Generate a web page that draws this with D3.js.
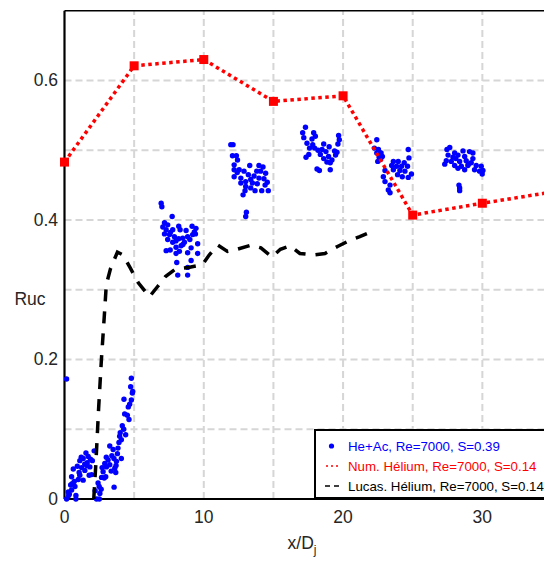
<!DOCTYPE html>
<html><head><meta charset="utf-8">
<script src="https://cdn.jsdelivr.net/npm/d3@7"></script>
<style>body{margin:0;background:#fff;font-family:"Liberation Sans",Arial,sans-serif;}</style>
</head><body><svg id="c" width="544" height="561"></svg>
<script>
// Num. Hélium series
const numX = [0, 5, 10, 15, 20, 25, 30, 35];
const numY = [0.483, 0.621, 0.630, 0.570, 0.578, 0.407, 0.424, 0.440];
// Lucas. Hélium series
const lucasX = [2.1, 2.25, 2.45, 2.65, 2.85, 3.0, 3.3, 3.8, 4.2, 4.7, 5.3, 6.1, 6.7, 7.25, 8.0, 8.9, 9.9, 10.4, 11.0, 11.7, 12.4, 13.4, 14.1, 14.9, 15.5, 16.2, 16.9, 17.9, 18.7, 19.6, 20.4, 21.2, 22.0];
const lucasY = [0.0, 0.05, 0.13, 0.20, 0.26, 0.307, 0.33, 0.354, 0.35, 0.332, 0.31, 0.290, 0.305, 0.319, 0.330, 0.332, 0.336, 0.350, 0.364, 0.355, 0.358, 0.364, 0.360, 0.347, 0.358, 0.363, 0.352, 0.350, 0.352, 0.362, 0.370, 0.376, 0.383];
// He+Ac measured points
const heX = [0.15,4.8,4.75,4.9,4.87,4.27,4.8,4.68,4.58,4.32,4.51,4.63,4.25,4.39,3.96,4.08,3.91,3.84,3.49,3.25,4.08,3.73,3.61,3.68,3.56,3.13,2.89,3.25,3.01,2.77,2.66,2.96,2.41,2.54,2.3,2.5,2.13,1.54,1.7,1.34,1.87,1.1,1.63,0.92,1.23,1.82,0.63,1.46,1.1,1.77,0.51,0.99,1.34,0.44,0.75,0.27,0.51,0.82,0.15,0.82,0.35,2.49,2.63,
  3.4,3.0,2.7,3.8,4.0,3.35,2.85,1.95,1.45,1.05,0.7,0.3,0.55,1.2,1.6,2.0,3.55,4.15,3.7,2.2,
  6.94,6.99,7.73,7.18,7.41,7.06,7.3,7.77,8.2,8.3,9.16,9.44,9.32,7.18,7.54,7.89,8.49,8.84,9.2,7.41,8.2,7.77,8.61,9.56,8.37,8.01,9.09,7.3,7.59,8.25,8.01,8.84,9.56,8.06,9.09,8.84,8.13,8.84,8.73,7.6,8.0,8.5,9.0,9.4,
  11.94,12.1,12.06,12.34,12.42,12.18,13.3,13.96,14.25,12.18,12.54,12.89,14.08,14.44,13.2,13.61,12.18,12.66,13.96,14.32,13.37,13.01,12.66,13.49,14.56,13.84,13.01,13.37,13.68,14.16,14.63,12.96,12.82,13.06,13.01,12.4,13.8,14.4,
  17.3,17.1,17.18,17.89,18.01,17.77,19.68,19.73,17.41,17.82,18.61,19.63,17.59,17.96,18.49,18.77,19.39,19.56,17.54,18.37,18.96,19.46,17.34,18.61,19.2,18.84,19.08,18.13,18.3,19.08,18.2,19.0,
  22.42,24.68,22.25,22.54,22.42,22.73,22.59,22.82,22.49,24.73,23.61,23.96,24.39,23.49,23.84,24.2,24.63,23.61,24.08,24.44,23.01,23.91,24.25,24.68,24.91,22.89,23.01,23.37,23.25,23.37,22.6,22.7,
  27.66,27.46,28.01,28.61,29.08,29.32,27.54,27.89,28.25,28.73,29.32,27.41,27.77,28.37,28.84,29.2,27.3,28.01,28.49,28.96,29.56,29.92,28.25,28.73,29.44,29.8,30.04,29.99,28.32,28.37,28.37,28.1,29.0];
const heY = [0.172,0.173,0.161,0.154,0.152,0.143,0.142,0.136,0.132,0.122,0.120,0.114,0.100,0.092,0.090,0.085,0.081,0.073,0.071,0.076,0.058,0.054,0.044,0.038,0.017,0.056,0.051,0.049,0.046,0.039,0.031,0.032,0.023,0.008,0.0,0.0,0.069,0.066,0.061,0.058,0.057,0.055,0.052,0.047,0.045,0.046,0.043,0.041,0.034,0.034,0.032,0.028,0.027,0.020,0.018,0.010,0.013,0.005,0.0,0.0,0.007,0.018,0.014,
  0.062,0.060,0.045,0.065,0.095,0.040,0.030,0.035,0.050,0.038,0.025,0.005,0.022,0.060,0.048,0.055,0.058,0.105,0.048,0.012,
  0.424,0.419,0.405,0.396,0.393,0.390,0.386,0.386,0.391,0.386,0.391,0.388,0.383,0.380,0.379,0.376,0.374,0.376,0.379,0.372,0.373,0.368,0.368,0.366,0.363,0.361,0.360,0.356,0.357,0.355,0.352,0.353,0.352,0.339,0.342,0.332,0.321,0.321,0.385,0.382,0.370,0.365,0.372,0.380,
  0.508,0.508,0.492,0.492,0.486,0.479,0.478,0.478,0.476,0.472,0.472,0.470,0.470,0.467,0.465,0.463,0.462,0.460,0.460,0.459,0.458,0.455,0.453,0.453,0.454,0.452,0.448,0.446,0.442,0.442,0.442,0.442,0.436,0.411,0.405,0.468,0.470,0.450,
  0.533,0.525,0.518,0.525,0.520,0.516,0.521,0.515,0.510,0.508,0.509,0.509,0.503,0.503,0.501,0.498,0.499,0.497,0.494,0.494,0.491,0.493,0.490,0.488,0.486,0.483,0.482,0.473,0.471,0.472,0.500,0.505,
  0.515,0.501,0.503,0.501,0.496,0.496,0.490,0.491,0.484,0.489,0.484,0.484,0.482,0.478,0.477,0.477,0.477,0.472,0.471,0.470,0.471,0.465,0.462,0.461,0.466,0.462,0.455,0.450,0.443,0.439,0.497,0.487,
  0.504,0.501,0.496,0.499,0.498,0.496,0.493,0.490,0.493,0.491,0.488,0.485,0.484,0.484,0.485,0.482,0.480,0.478,0.477,0.478,0.478,0.477,0.474,0.472,0.472,0.470,0.471,0.466,0.450,0.446,0.442,0.488,0.480];
const xTicks = [0, 10, 20, 30];
const yTicks = [0, 0.2, 0.4, 0.6];
const xGrid = [5, 10, 15, 20, 25, 30, 35];
const yGrid = [0.1, 0.2, 0.3, 0.4, 0.5, 0.6];
const legendLabels = ["He+Ac, Re=7000, S=0.39", "Num. Hélium, Re=7000, S=0.14", "Lucas. Hélium, Re=7000, S=0.14"];

const svg = d3.select("#c");
const x = d3.scaleLinear().domain([0, 35]).range([64.5, 552]);
const y = d3.scaleLinear().domain([0, 0.7]).range([499, 10.7]);

const gridCol = "#d6d6d6";
svg.append("g").selectAll("line").data(xGrid).join("line")
  .attr("x1", d => x(d)).attr("x2", d => x(d)).attr("y1", y(0)).attr("y2", y(0.7))
  .attr("stroke", gridCol).attr("stroke-width", 2).attr("stroke-dasharray", "7,4");
svg.append("g").selectAll("line").data(yGrid).join("line")
  .attr("y1", d => y(d)).attr("y2", d => y(d)).attr("x1", x(0)).attr("x2", x(35))
  .attr("stroke", gridCol).attr("stroke-width", 2).attr("stroke-dasharray", "7,4");

// frame
svg.append("line").attr("x1", x(0)).attr("x2", x(35)).attr("y1", y(0.7)).attr("y2", y(0.7)).attr("stroke", "#000").attr("stroke-width", 1.5);
svg.append("line").attr("x1", x(0)).attr("x2", x(0)).attr("y1", y(0)).attr("y2", y(0.7)).attr("stroke", "#000").attr("stroke-width", 2.2);
svg.append("line").attr("x1", x(0)).attr("x2", x(35)).attr("y1", y(0)).attr("y2", y(0)).attr("stroke", "#000").attr("stroke-width", 2.2);

// tick labels
svg.append("g").selectAll("text").data(yTicks).join("text")
  .attr("x", 58).attr("y", d => y(d) + 6).attr("text-anchor", "end")
  .attr("font-size", 17.5).attr("fill", "#262626").text(d => d === 0 ? "0" : d3.format(".1f")(d));
svg.append("g").selectAll("text").data(xTicks).join("text")
  .attr("x", d => x(d)).attr("y", 523).attr("text-anchor", "middle")
  .attr("font-size", 17.5).attr("fill", "#262626").text(d => d);

svg.append("text").attr("x", 30).attr("y", 305).attr("text-anchor", "middle").attr("font-size", 17.5).attr("fill", "#262626").text("Ruc");
const xl = svg.append("text").attr("x", 302).attr("y", 549).attr("text-anchor", "middle").attr("font-size", 17.5).attr("fill", "#262626");
xl.append("tspan").text("x/D");
xl.append("tspan").attr("font-size", 12).attr("dy", 5).text("j");

// blue scatter
svg.append("g").selectAll("circle").data(d3.range(heX.length)).join("circle")
  .attr("cx", i => x(heX[i])).attr("cy", i => y(heY[i])).attr("r", 2.7).attr("fill", "#0000ff");

// Lucas dashed line
const lucas = d3.range(lucasX.length).map(i => [lucasX[i], lucasY[i]]);
svg.append("path").datum(lucas).attr("d", d3.line().x(d => x(d[0])).y(d => y(d[1])))
  .attr("fill", "none").attr("stroke", "#000").attr("stroke-width", 3.5).attr("stroke-dasharray", "12,10");

// Num dotted line
const num = d3.range(numX.length).map(i => [numX[i], numY[i]]);
svg.append("path").datum(num).attr("d", d3.line().x(d => x(d[0])).y(d => y(d[1])))
  .attr("fill", "none").attr("stroke", "#ff0000").attr("stroke-width", 3.5).attr("stroke-dasharray", "3.5,3.5");
svg.append("g").selectAll("rect").data(num).join("rect")
  .attr("x", d => x(d[0]) - 4.5).attr("y", d => y(d[1]) - 4.5).attr("width", 9).attr("height", 9).attr("fill", "#ff0000");

// legend
const lg = svg.append("g");
lg.append("rect").attr("x", 315).attr("y", 430).attr("width", 260).attr("height", 68).attr("fill", "#fff").attr("stroke", "#000").attr("stroke-width", 2);
const lgCol = ["#0000ff", "#ff0000", "#000"];
const lgY = [446, 466, 486];
lg.append("circle").attr("cx", 331.5).attr("cy", lgY[0]).attr("r", 2.6).attr("fill", lgCol[0]);
lg.append("line").attr("x1", 326).attr("x2", 339).attr("y1", lgY[1]).attr("y2", lgY[1]).attr("stroke", lgCol[1]).attr("stroke-width", 1.5).attr("stroke-dasharray", "2,3");
lg.append("line").attr("x1", 325).attr("x2", 339).attr("y1", lgY[2]).attr("y2", lgY[2]).attr("stroke", lgCol[2]).attr("stroke-width", 1.3).attr("stroke-dasharray", "5,4");
lg.selectAll("text").data(legendLabels).join("text")
  .attr("x", 348).attr("y", (d, i) => lgY[i] + 5).attr("font-size", 13.3).attr("fill", (d, i) => lgCol[i]).text(d => d);
</script></body></html>
